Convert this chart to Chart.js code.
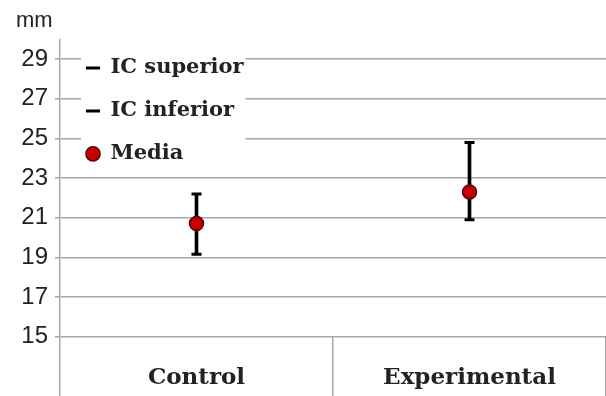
<!DOCTYPE html>
<html>
<head>
<meta charset="utf-8">
<script src="https://cdn.jsdelivr.net/npm/chart.js@4/dist/chart.umd.min.js"></script>
<style>
  html, body { margin: 0; padding: 0; background: #fff; }
  #wrap { width: 606px; height: 396px; }
</style>
</head>
<body>
<div id="wrap"><canvas id="chart" width="606" height="396"></canvas></div>
<script>
const categories = ["Control", "Experimental"];
const icSuperior = [22.2, 24.8];
const icInferior = [19.15, 20.9];
const media = [20.7, 22.3];
const yTicks = [15, 17, 19, 21, 23, 25, 27, 29];

const gridColor = "#a8a8a8";

// legend sits inside the plot, on a white box, like the original
const legendBg = {
    id: "legendBg",
    afterLayout(chart) {
        const legend = chart.legend;
        if (!legend) return;
        legend.top = chart.chartArea.top - 4;
        legend.left = chart.chartArea.left + 4;
        if (legend._bgPatched) return;
        const orig = legend.draw.bind(legend);
        legend.draw = function() {
            const boxes = legend.legendHitBoxes || [];
            if (boxes.length) {
                let l = Infinity, t = Infinity, r = -Infinity, b = -Infinity;
                boxes.forEach(h => {
                    l = Math.min(l, h.left); t = Math.min(t, h.top);
                    r = Math.max(r, h.left + h.width); b = Math.max(b, h.top + h.height);
                });
                const c = chart.ctx;
                c.save();
                c.fillStyle = "#fff";
                c.fillRect(l - 5, t - 12, r - l + 7, b - t + 22);
                c.restore();
            }
            orig();
        };
        legend._bgPatched = true;
    }
};

new Chart(document.getElementById("chart"), {
    type: "bar",
    data: {
        labels: categories,
        datasets: [
            {
                type: "line",
                label: "IC superior",
                data: icSuperior,
                showLine: false,
                pointStyle: "line",
                pointRadius: 5,
                borderColor: "#000",
                backgroundColor: "#000",
                borderWidth: 3,
                order: 1
            },
            {
                type: "line",
                label: "IC inferior",
                data: icInferior,
                showLine: false,
                pointStyle: "line",
                pointRadius: 5,
                borderColor: "#000",
                backgroundColor: "#000",
                borderWidth: 3,
                order: 1
            },
            {
                type: "line",
                label: "Media",
                data: media,
                showLine: false,
                pointStyle: "circle",
                pointRadius: 7,
                backgroundColor: "#c40000",
                borderColor: "#5a0000",
                borderWidth: 1.5,
                order: 0
            },
            {
                label: "range",
                data: categories.map((c, i) => [icInferior[i], icSuperior[i]]),
                backgroundColor: "#000",
                borderWidth: 0,
                barThickness: 3,
                order: 2
            }
        ]
    },
    options: {
        responsive: false,
        animation: false,
        layout: { autoPadding: false, padding: { left: 16, right: 0, top: 0, bottom: 0 } },
        plugins: {
            title: {
                display: true,
                text: "mm",
                align: "start",
                color: "#222",
                font: { family: "Liberation Sans", size: 22, weight: "normal", lineHeight: 1.2 },
                padding: { top: 8, bottom: 5 }
            },
            legend: {
                position: "chartArea",
                align: "start",
                labels: {
                    usePointStyle: true,
                    boxHeight: 10,
                    boxWidth: 14,
                    padding: 22,
                    color: "#222",
                    font: { family: "DejaVu Serif", size: 21, weight: "bold" },
                    filter: item => item.text !== "range",
                    sort: (a, b) => a.datasetIndex - b.datasetIndex
                }
            },
            tooltip: { enabled: false }
        },
        scales: {
            x: {
                grid: {
                    offset: true,
                    drawOnChartArea: false,
                    tickLength: 60,
                    color: gridColor,
                    lineWidth: 1.5
                },
                border: { display: false },
                ticks: {
                    padding: -32,
                    color: "#222",
                    font: { family: "DejaVu Serif", size: 23, weight: "bold" }
                },
                afterFit: scale => {
                    scale.height = 59.5;
                    scale.paddingLeft = 0;
                    scale.paddingRight = 0;
                }
            },
            y: {
                min: 15,
                max: 30,
                afterBuildTicks: scale => { scale.ticks = yTicks.map(v => ({ value: v })); },
                grid: { color: gridColor, lineWidth: 1.5, tickLength: 5 },
                border: { color: gridColor, width: 1.5 },
                ticks: {
                    padding: 7,
                    color: "#222",
                    font: { family: "Liberation Sans", size: 24 }
                },
                afterFit: scale => { scale.width = 44; }
            }
        }
    },
    plugins: [legendBg]
});
</script>
</body>
</html>
